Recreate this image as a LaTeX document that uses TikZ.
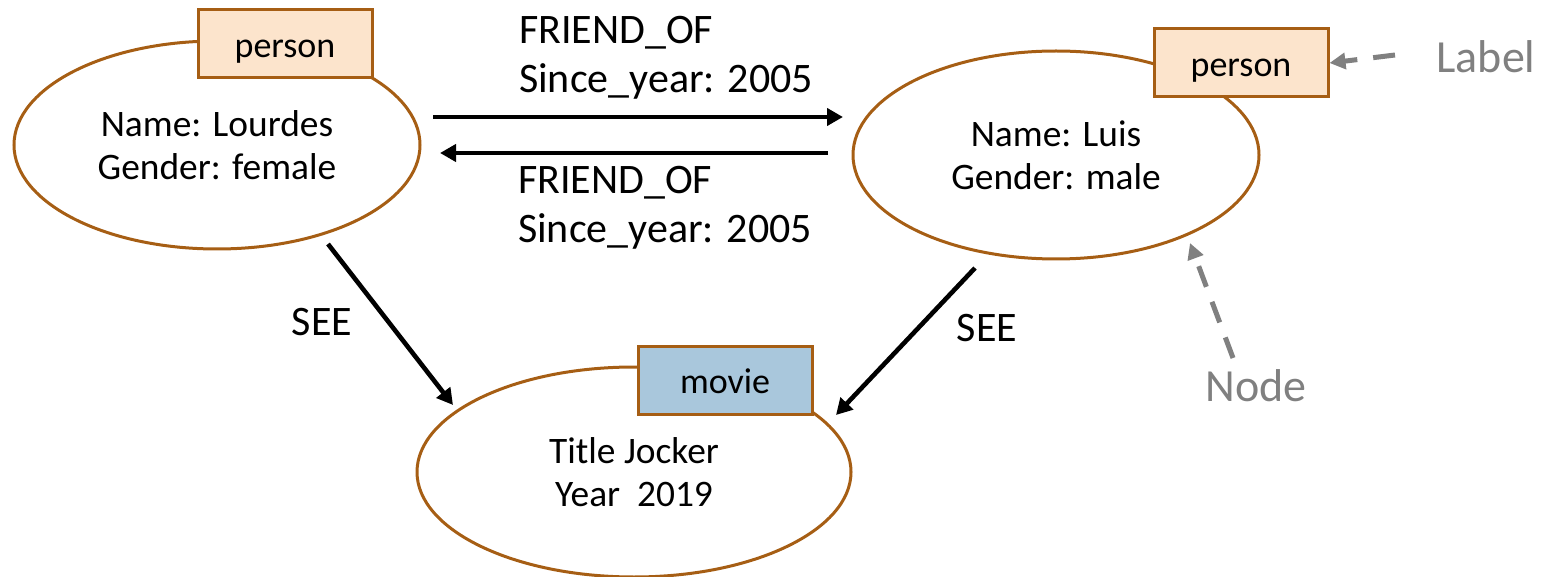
\documentclass[tikz,border=0pt]{standalone}
\usepackage{fontspec}
\setmainfont{Carlito}
\usetikzlibrary{shapes.geometric,arrows.meta}
\definecolor{nodeedge}{HTML}{A65E14}
\definecolor{personfill}{HTML}{FCE4CC}
\definecolor{moviefill}{HTML}{A9C7DC}
\definecolor{notegray}{HTML}{808080}
\tikzset{
  x=0.5pt, y=-0.5pt,
  entity/.style={ellipse, draw=nodeedge, line width=1.5pt, fill=white, inner sep=0pt,
    minimum width=203pt, minimum height=104pt, align=center,
    font=\fontsize{18.7}{21.5}\selectfont},
  tag/.style={rectangle, draw=nodeedge, line width=1.5pt, inner sep=0pt,
    minimum width=87pt, minimum height=34pt, text height=13.5pt, text depth=0pt,
    font=\fontsize{18}{21}\selectfont},
  rel/.style={-{Triangle[length=8pt,width=8.5pt]}, line width=2.3pt, black},
  reltext/.style={align=left, font=\fontsize{21}{24.5}\selectfont},
  note/.style={-{Triangle[length=8pt,width=8pt]}, line width=2.5pt, notegray,
    dash pattern=on 11pt off 8pt},
  notetext/.style={text=notegray, font=\fontsize{23}{27}\selectfont},
}
\begin{document}
\begin{tikzpicture}
\useasboundingbox (0,0) rectangle (1547,577);

% nodes
\node[entity] (lourdes) at (217,145) {Name: Lourdes\\Gender: female};
\node[entity] (luis) at (1056,155) {Name: Luis\\Gender: male};
\node[entity, minimum width=217pt, minimum height=105pt] (joker) at (634,472) {Title Jocker\\Year~~2019};

% labels on the nodes
\node[tag, fill=personfill] (tag1) at (285,44) {person};
\node[tag, fill=personfill] (tag2) at (1241,63) {person};
\node[tag, fill=moviefill] (tag3) at (725,380) {movie};

% relationship end points
\coordinate (f1s) at (433,117);
\coordinate (f1e) at (843,117);
\coordinate (f2s) at (828,153);
\coordinate (f2e) at (440,153);
\coordinate (s1s) at (328,244);
\coordinate (s1e) at (453,405);
\coordinate (s2s) at (975,268);
\coordinate (s2e) at (836,415);

\draw[rel] (f1s) -- (f1e);
\draw[rel] (f2s) -- (f2e);
\draw[rel] (s1s) -- (s1e);
\draw[rel] (s2s) -- (s2e);

% relationship texts
\node[reltext, anchor=west] (r1) at (512,58) {FRIEND\_OF\\Since\_year: 2005};
\node[reltext, anchor=west] (r2) at (511,208) {FRIEND\_OF\\Since\_year: 2005};
\node[reltext] (see1) at (322,322) {SEE};
\node[reltext] (see2) at (987,328) {SEE};

% annotations
\node[notetext] (lbl) at (1486,57) {Label};
\node[notetext] (nd) at (1256,386) {Node};
\coordinate (lbls) at (1395,55);
\coordinate (nds) at (1233,358);
\draw[note] (lbls) -- (tag2.east);
\draw[note] (nds) -- (1190,243);
\end{tikzpicture}
\end{document}
